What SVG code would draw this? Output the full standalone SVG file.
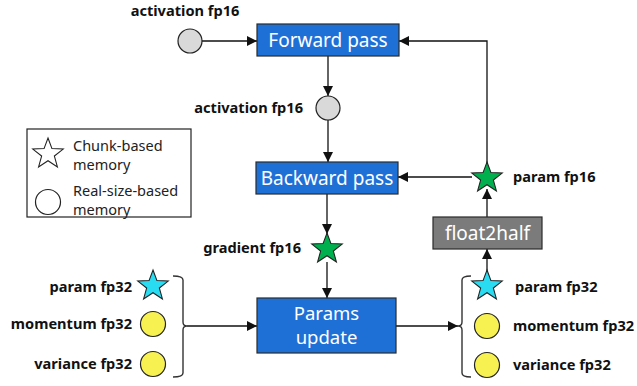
<svg xmlns="http://www.w3.org/2000/svg" width="637" height="386" viewBox="0 0 637 386">
<defs>
<style>
.box{stroke:#2a2a2a;stroke-width:1.2}
.blue{fill:#1f70d6}
.grey{fill:#7b7b7b}
.bt{font-family:"Noto Sans","Open Sans",sans-serif;font-size:19px;fill:#ffffff;text-anchor:middle}
.bt2{font-family:"Noto Sans","Open Sans",sans-serif;font-size:18.5px;fill:#ffffff;text-anchor:middle}
.lbl{font-family:"Noto Sans","Open Sans",sans-serif;font-size:14.6px;font-weight:bold;fill:#111}
.leg{font-family:"Noto Sans","Open Sans",sans-serif;font-size:14.5px;fill:#222}
.line{stroke:#111;stroke-width:1.3;fill:none}
.brace{stroke:#333;stroke-width:1.4;fill:none}
.circ{fill:#d9d9d9;stroke:#222;stroke-width:1.2}
.yel{fill:#f8f152;stroke:#222;stroke-width:1.2}
.star{stroke:#222;stroke-width:1.1}
</style>
<path id="star" d="M0,-16 L3.94,-5.42 L15.22,-4.94 L6.37,2.07 L9.40,12.94 L0,6.7 L-9.40,12.94 L-6.37,2.07 L-15.22,-4.94 L-3.94,-5.42 Z"/>
<marker id="ah" viewBox="0 0 10 10" refX="10" refY="5" markerWidth="11" markerHeight="10" markerUnits="userSpaceOnUse" orient="auto">
<path d="M0,0 L10,5 L0,10 Z" fill="#111"/>
</marker>
</defs>
<rect width="637" height="386" fill="#ffffff"/>

<g id="connectors">
<line class="line" x1="202" y1="41" x2="257" y2="41" marker-end="url(#ah)"/>
<line class="line" x1="328" y1="56" x2="328" y2="96" marker-end="url(#ah)"/>
<line class="line" x1="328" y1="120" x2="328" y2="162" marker-end="url(#ah)"/>
<line class="line" x1="327" y1="194" x2="327" y2="234" marker-end="url(#ah)"/>
<line class="line" x1="327" y1="262" x2="327" y2="298" marker-end="url(#ah)"/>
<line class="line" x1="472" y1="177" x2="398" y2="177" marker-end="url(#ah)"/>
<polyline class="line" points="487,163 487,41 399,41" marker-end="url(#ah)"/>
<line class="line" x1="487" y1="217" x2="487" y2="189" marker-end="url(#ah)"/>
<line class="line" x1="487" y1="271" x2="487" y2="249" marker-end="url(#ah)"/>
<line class="line" x1="187" y1="326" x2="257" y2="326" marker-end="url(#ah)"/>
<line class="line" x1="396" y1="326" x2="458" y2="326" marker-end="url(#ah)"/>
<path class="brace" d="M173,276 Q183,276 183,280 L183,322 Q183,326 187,326 Q183,326 183,330 L183,373 Q183,377 173,377"/>
<path class="brace" d="M471,276 Q462,276 462,280 L462,322 Q462,326 458,326 Q462,326 462,330 L462,373 Q462,377 471,377"/>
</g>

<g id="legend">
<rect x="27" y="129" width="164" height="88" fill="#ffffff" stroke="#222" stroke-width="1.2"/>
<use href="#star" x="48" y="154" fill="none" stroke="#222" stroke-width="1.1"/>
<circle cx="48" cy="202" r="12.5" fill="#ffffff" stroke="#222" stroke-width="1.2"/>
<text class="leg" x="73" y="151">Chunk-based</text>
<text class="leg" x="73" y="170">memory</text>
<text class="leg" x="73" y="196">Real-size-based</text>
<text class="leg" x="73" y="215">memory</text>
</g>

<g id="act-in">
<circle class="circ" cx="190" cy="41" r="12"/>
<text class="lbl" x="185" y="16" text-anchor="middle">activation fp16</text>
</g>

<g id="forward">
<rect class="box blue" x="257" y="24" width="142" height="32"/>
<text class="bt" x="328" y="47">Forward pass</text>
</g>

<g id="act-mid">
<circle class="circ" cx="328" cy="108" r="12"/>
<text class="lbl" x="303" y="113" text-anchor="end">activation fp16</text>
</g>

<g id="backward">
<rect class="box blue" x="256" y="162" width="142" height="32"/>
<text class="bt" x="327" y="185">Backward pass</text>
</g>

<g id="gradient">
<use href="#star" x="327" y="249" fill="#00b04f" class="star"/>
<text class="lbl" x="301" y="253" text-anchor="end">gradient fp16</text>
</g>

<g id="param16">
<use href="#star" x="487" y="178" fill="#00b04f" class="star"/>
<text class="lbl" x="513" y="182">param fp16</text>
</g>

<g id="float2half">
<rect class="box grey" x="433" y="217" width="109" height="32"/>
<text class="bt" x="487.5" y="240">float2half</text>
</g>

<g id="params-update">
<rect class="box blue" x="257" y="298" width="139" height="55"/>
<text class="bt2" x="326.5" y="320">Params</text>
<text class="bt2" x="326.5" y="344">update</text>
</g>

<g id="left-states">
<use href="#star" x="153" y="286" fill="#29dcf2" class="star"/>
<circle class="yel" cx="153" cy="324" r="12.5"/>
<circle class="yel" cx="153" cy="364" r="12.5"/>
<text class="lbl" x="132" y="292" text-anchor="end">param fp32</text>
<text class="lbl" x="132" y="329" text-anchor="end">momentum fp32</text>
<text class="lbl" x="132" y="369" text-anchor="end">variance fp32</text>
</g>

<g id="right-states">
<use href="#star" x="487" y="286" fill="#29dcf2" class="star"/>
<circle class="yel" cx="487" cy="326" r="12.5"/>
<circle class="yel" cx="487" cy="365" r="12.5"/>
<text class="lbl" x="515" y="292">param fp32</text>
<text class="lbl" x="513" y="331">momentum fp32</text>
<text class="lbl" x="513" y="370">variance fp32</text>
</g>
</svg>
